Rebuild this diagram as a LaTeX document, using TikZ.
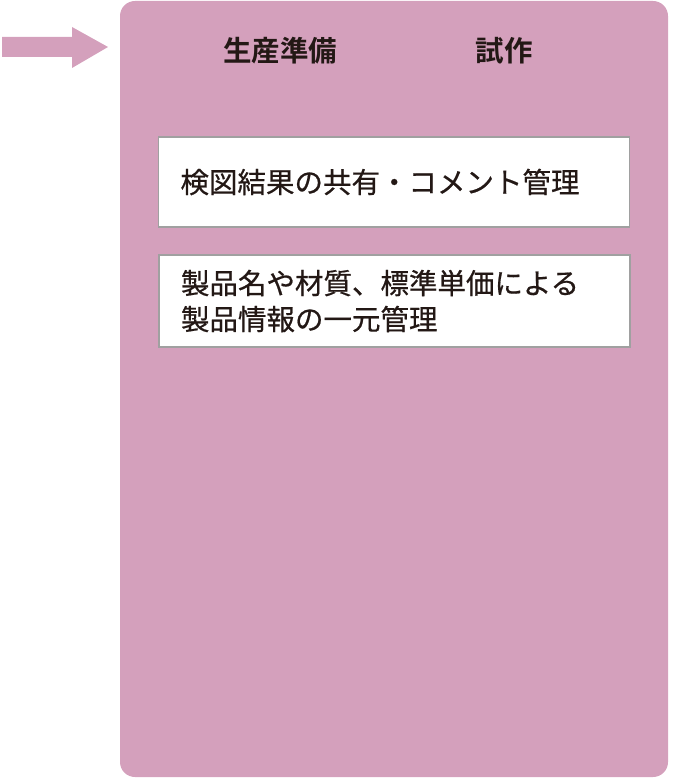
\documentclass[tikz,border=0pt]{standalone}
\usepackage{fontspec}
\newfontfamily\jpfont[FakeBold=0.6]{Noto Sans CJK JP}
\newfontfamily\jpbold{Noto Sans CJK JP Bold}
\definecolor{stagepink}{RGB}{212,160,188}
\definecolor{boxgray}{RGB}{160,160,160}
\definecolor{inkblack}{RGB}{35,24,21}
\tikzset{
  itembox/.style={draw=boxgray, line width=1.2pt, fill=white, minimum width=471pt,
    minimum height=90pt, text width=427pt, inner xsep=22pt, align=left,
    font=\jpfont\fontsize{28.5}{36}\selectfont, text=inkblack},
  stagelabel/.style={font=\jpbold\fontsize{28.5}{34}\selectfont, text=inkblack}
}
\begin{document}
\begin{tikzpicture}[x=1pt, y=-1pt]
    \useasboundingbox (0,0) rectangle (678,778);
    \fill[stagepink, rounded corners=15pt] (120,1) rectangle (668,777);
    \fill[stagepink] (2,37) -- (72,37) -- (72,27) -- (108,47) -- (72,68) -- (72,57) -- (2,57) -- cycle;
    \node[stagelabel] (prep) at (280,51) {生産準備};
    \node[stagelabel] (trial) at (504,51) {試作};
    \node[itembox] (check) at (394,182) {\raisebox{-2pt}{検図結果の共有・コメント管理}};
    \node[itembox, minimum height=92pt] (product) at (394.5,301) {\raisebox{-2pt}{製品名や材質、標準単価による}\\\raisebox{-2pt}{製品情報の一元管理}};
\end{tikzpicture}
\end{document}
